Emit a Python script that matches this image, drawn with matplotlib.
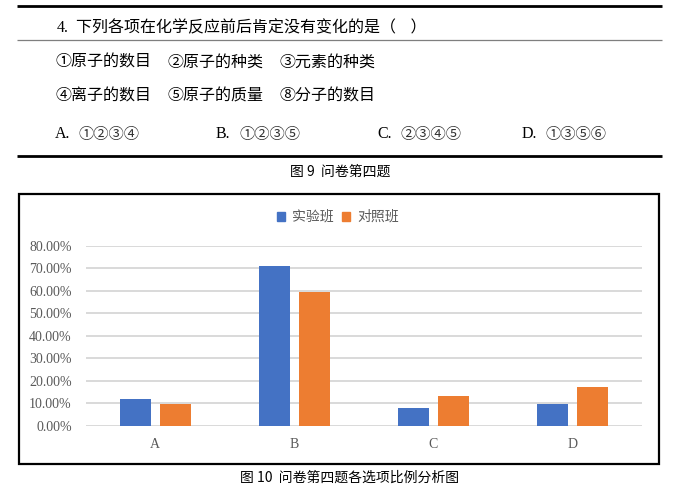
import matplotlib
matplotlib.use("Agg")
import matplotlib.pyplot as plt
from matplotlib.lines import Line2D
from matplotlib.patches import Rectangle, Patch
from matplotlib.ticker import FuncFormatter

# ---- data ----
categories = ["A", "B", "C", "D"]
series_names = ["实验班", "对照班"]
exp_values = [11.8, 71.1, 7.8, 9.5]
ctrl_values = [9.5, 59.7, 13.4, 17.4]
y_ticks = [0, 10, 20, 30, 40, 50, 60, 70, 80]

question = "4. 下列各项在化学反应前后肯定没有变化的是（    ）"
items_row1 = ["①原子的数目", "②原子的种类", "③元素的种类"]
items_row2 = ["④离子的数目", "⑤原子的质量", "⑧分子的数目"]
choice_letters = ["A.", "B.", "C.", "D."]
choice_sets = ["①②③④", "①②③⑤", "②③④⑤", "①③⑤⑥"]
caption9 = "图 9  问卷第四题"
caption10 = "图 10  问卷第四题各选项比例分析图"

W, H = 694, 490
fig = plt.figure(figsize=(W / 100, H / 100), dpi=100)
fig.patch.set_facecolor("white")

def fx(x):
    return x / W

def fy(y):
    return 1 - y / H

CJK = ["Noto Sans CJK SC", "DejaVu Sans"]
SERIF = ["Liberation Serif", "Noto Sans CJK SC", "DejaVu Sans"]

def hline(y, x0, x1, lw, color):
    fig.add_artist(Line2D([fx(x0), fx(x1)], [fy(y), fy(y)], transform=fig.transFigure,
                          color=color, lw=lw, solid_capstyle="butt"))

# ---- question block ----
hline(6, 17, 662, 2.0, "black")
fig.text(fx(57), fy(28), "4.", family=SERIF, fontsize=11.5, va="center", ha="left")
fig.text(fx(76), fy(28), question[3:], family=CJK, fontsize=11.5, va="center", ha="left")
hline(40.5, 17, 662, 0.9, "#7f7f7f")

xs_items = [56, 168, 279]
for x, t in zip(xs_items, items_row1):
    fig.text(fx(x), fy(62), t, family=CJK, fontsize=11.5, va="center", ha="left")
for x, t in zip(xs_items, items_row2):
    fig.text(fx(x), fy(96), t, family=CJK, fontsize=11.5, va="center", ha="left")

xs_choice = [55, 216, 377, 522]
for x, l, s in zip(xs_choice, choice_letters, choice_sets):
    fig.text(fx(x), fy(134), l, family=SERIF, fontsize=11.5, va="center", ha="left")
    fig.text(fx(x + 23), fy(134), s, family=CJK, fontsize=11,
             va="center", ha="left", color="#333333")
hline(156, 17, 662, 2.0, "black")
fig.text(fx(340), fy(172), caption9, family=CJK, fontsize=10, va="center", ha="center")

# ---- chart frame ----
fig.add_artist(Rectangle((fx(18.5), fy(463.5)), fx(659) - fx(18.5), fy(194.5) - fy(463.5),
                         transform=fig.transFigure, fill=False, edgecolor="black", lw=1.6))

# ---- chart ----
ax_l, ax_r, ax_t, ax_b = 85.7, 641.7, 246, 425.7
ax = fig.add_axes([fx(ax_l), fy(ax_b), fx(ax_r) - fx(ax_l), fy(ax_t) - fy(ax_b)])
ax.set_facecolor("none")
x = list(range(len(categories)))
bw = 0.223
off = 0.144
blue, orange = "#4472C4", "#ED7D31"
ax.bar([i - off for i in x], exp_values, width=bw, color=blue, zorder=3)
ax.bar([i + off for i in x], ctrl_values, width=bw, color=orange, zorder=3)
ax.set_xlim(-0.5, len(categories) - 0.5)
ax.set_ylim(0, 80)
ax.set_yticks(y_ticks)
ax.yaxis.set_major_formatter(FuncFormatter(lambda v, p: f"{v:.2f}%"))
ax.grid(axis="y", color="#d9d9d9", lw=1.4, zorder=0)
ax.set_axisbelow(True)
for s in ax.spines.values():
    s.set_visible(False)
ax.tick_params(axis="both", length=0, colors="#595959", labelsize=10)
ax.tick_params(axis="y", pad=10)
ax.tick_params(axis="x", pad=9)
ax.set_xticks(x)
ax.set_xticklabels(categories)
for lab in ax.get_xticklabels() + ax.get_yticklabels():
    lab.set_family(SERIF)

handles = [Patch(color=blue), Patch(color=orange)]
leg = fig.legend(handles, series_names, loc="center", bbox_to_anchor=(fx(338), fy(217)),
                 ncol=2, frameon=False, handlelength=0.6, handleheight=0.6,
                 handletextpad=0.5, columnspacing=0.6,
                 prop={"family": CJK, "size": 10})
for t in leg.get_texts():
    t.set_color("#595959")

fig.text(fx(350), fy(478), caption10, family=CJK, fontsize=10, va="center", ha="center")

fig.savefig("out.png", dpi=100, facecolor="white")
